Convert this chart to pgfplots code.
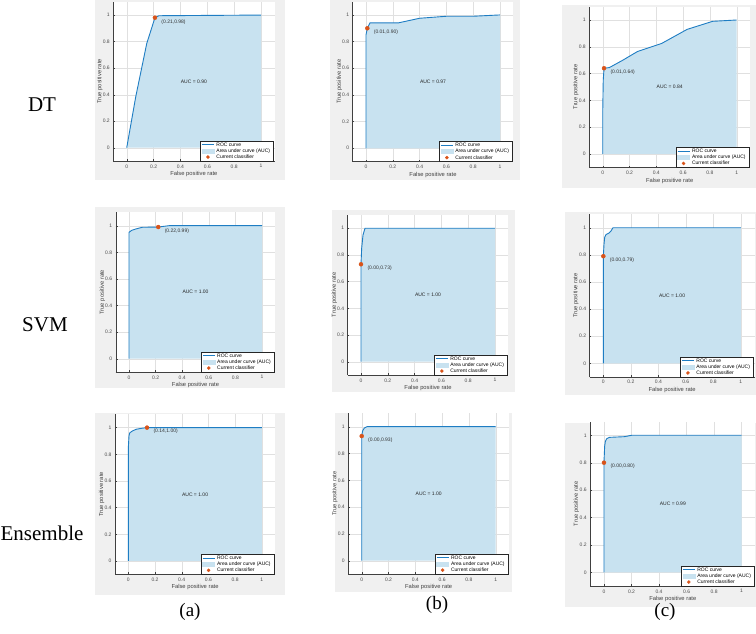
\documentclass[border=0pt]{standalone}
\usepackage{pgfplots}
\pgfplotsset{compat=1.18}
\usepackage{fontspec}
\setmainfont{Liberation Sans}
\newfontfamily\tnr{Liberation Serif}
\definecolor{rocblue}{RGB}{30,125,195}
\definecolor{aucfill}{RGB}{200,226,240}
\definecolor{mkorange}{RGB}{217,83,25}
\definecolor{figgrey}{RGB}{240,240,240}
\pgfplotsset{
 rocaxis/.style={
  scale only axis, anchor=south west,
  xmin=-0.1,xmax=1.1,ymin=-0.1,ymax=1.1,
  xtick={0,0.2,0.4,0.6,0.8,1}, ytick={0,0.2,0.4,0.6,0.8,1},
  xticklabels={0,0.2,0.4,0.6,0.8,1}, yticklabels={0,0.2,0.4,0.6,0.8,1},
  grid=major, major grid style={black!12, line width=0.3pt},
  axis x line*=bottom, axis y line*=left,
  axis line style={-, black!75, line width=0.4pt},
  major tick length=1.8pt, tick align=inside,
  tick style={black!75, line width=0.3pt},
  ticklabel style={font=\fontsize{5}{6}\selectfont, text=black!70},
  xlabel={False positive rate}, ylabel={True positive rate},
  every axis x label/.style={at={(axis description cs:0.5,-0.082)}, anchor=center, font=\fontsize{5.8}{7}\selectfont, text=black!75},
  every axis y label/.style={at={(axis description cs:-0.083,0.5)}, anchor=center, rotate=90, font=\fontsize{5.8}{7}\selectfont, text=black!75},
  axis background/.style={fill=white},
  legend style={at={(0.992,0)}, anchor=south east, draw=black!85, line width=0.3pt, fill=white, font=\fontsize{5}{6}\selectfont, inner xsep=1pt, inner ysep=0.5pt, row sep=-0.5pt, nodes={inner ysep=0.9pt, text height=3.8pt, text depth=1pt}},
  legend cell align=left,
 },
 rocleg/.style={legend image code/.code={\draw[rocblue, line width=0.9pt] (0pt,0pt) -- (12pt,0pt);}},
 aucleg/.style={legend image code/.code={\fill[aucfill] (0pt,-2pt) rectangle (12pt,2pt);}},
 mkleg/.style={legend image code/.code={\fill[mkorange] (6pt,0pt) circle (1.6pt);}},
}
\newcommand{\roc}[9]{%
\begin{axis}[rocaxis, at={(#1pt,#2pt)}, width=#3pt, height=#4pt]
\addlegendimage{rocleg}
\addlegendimage{aucleg}
\addlegendimage{mkleg}
\addplot[fill=aucfill, draw=none, forget plot] coordinates {#5} \closedcycle;
\addplot[rocblue, line width=0.9pt, forget plot] coordinates {#5};
\addplot[only marks, mark=*, mark size=2pt, mark options={fill=mkorange, draw=mkorange}, forget plot] coordinates {(#6,#7)};
\node[anchor=west, xshift=3pt, yshift=-4pt, font=\fontsize{5}{6}\selectfont, text=black!80] at (axis cs:#6,#7) {#8};
\node[font=\fontsize{5}{6}\selectfont, text=black!85] at (axis cs:0.5,0.5) {AUC = #9};
\legend{ROC curve, Area under curve (AUC), Current classifier}
\end{axis}}
\begin{document}
\begin{tikzpicture}
\useasboundingbox (0pt,0pt) rectangle (756pt,634pt);
% grey figure backgrounds
\fill[figgrey] (95pt,454pt) rectangle (285pt,634pt);
\fill[figgrey] (330pt,454pt) rectangle (520pt,634pt);
\fill[figgrey] (562pt,446pt) rectangle (756pt,629pt);
\fill[figgrey] (95pt,246pt) rectangle (285pt,427pt);
\fill[figgrey] (332pt,242pt) rectangle (515pt,424pt);
\fill[figgrey] (565pt,239pt) rectangle (756pt,422pt);
\fill[figgrey] (95pt,39pt) rectangle (285pt,221pt);
\fill[figgrey] (335pt,42pt) rectangle (512pt,221pt);
\fill[figgrey] (565pt,27pt) rectangle (756pt,211pt);
% row and column labels
\node[font=\tnr\fontsize{21}{24}\selectfont] at (42pt,529pt) {DT};
\node[font=\tnr\fontsize{21}{24}\selectfont] at (45pt,309pt) {SVM};
\node[font=\tnr\fontsize{21}{24}\selectfont] at (42pt,101pt) {Ensemble};
\node[font=\tnr\fontsize{19}{22}\selectfont] at (190pt,22pt) {(a)};
\node[font=\tnr\fontsize{19}{22}\selectfont] at (437pt,29pt) {(b)};
\node[font=\tnr\fontsize{19}{22}\selectfont] at (665pt,22pt) {(c)};
% DT
\roc{113.3}{473.0}{161.2}{159.2}{(0,0)(0.067,0.384)(0.149,0.786)(0.21,0.98)(0.24,0.995)(1,1)}{0.21}{0.98}{(0.21,0.98)}{0.90}
\roc{352.6}{472.4}{160.8}{160.0}{(0,0)(0,0.85)(0.01,0.90)(0.03,0.94)(0.24,0.94)(0.4,0.975)(0.6,0.99)(0.8,0.99)(1,1)}{0.01}{0.90}{(0.01,0.90)}{0.97}
\roc{589.3}{466.6}{160.8}{160.8}{(0,0)(0,0.3)(0.004,0.55)(0.01,0.64)(0.05,0.645)(0.15,0.70)(0.26,0.765)(0.44,0.825)(0.63,0.93)(0.82,0.99)(1,1)}{0.01}{0.64}{(0.01,0.64)}{0.84}
% SVM
\roc{115.7}{262.0}{159.6}{159.6}{(0,0)(0,0.95)(0.02,0.965)(0.05,0.975)(0.1,0.988)(0.22,0.99)(0.3,1)(1,1)}{0.22}{0.99}{(0.22,0.99)}{1.00}
\roc{347.6}{259.0}{160.8}{160.1}{(0,0)(0,0.73)(0.005,0.85)(0.015,0.95)(0.03,1)(1,1)}{0}{0.73}{(0.00,0.73)}{1.00}
\roc{589.6}{257.1}{164.9}{162.7}{(0,0)(0,0.79)(0.005,0.88)(0.01,0.93)(0.02,0.95)(0.04,0.96)(0.055,0.975)(0.07,1)(1,1)}{0}{0.79}{(0.00,0.79)}{1.00}
% Ensemble
\roc{115.0}{59.7}{160.1}{160.0}{(0,0)(0,0.85)(0.005,0.94)(0.01,0.96)(0.03,0.975)(0.06,0.988)(0.1,0.995)(0.14,1)(1,1)}{0.14}{1.00}{(0.14,1.00)}{1.00}
\roc{348.3}{59.9}{160.8}{160.8}{(0,0)(0,0.93)(0.005,0.96)(0.01,0.975)(0.02,0.99)(0.04,1)(1,1)}{0}{0.93}{(0.00,0.93)}{1.00}
\roc{590.2}{48.0}{165.2}{164.4}{(0,0)(0,0.8)(0.005,0.92)(0.01,0.955)(0.02,0.975)(0.04,0.985)(0.15,0.99)(0.2,1)(1,1)}{0}{0.8}{(0.00,0.80)}{0.99}
\end{tikzpicture}
\end{document}
